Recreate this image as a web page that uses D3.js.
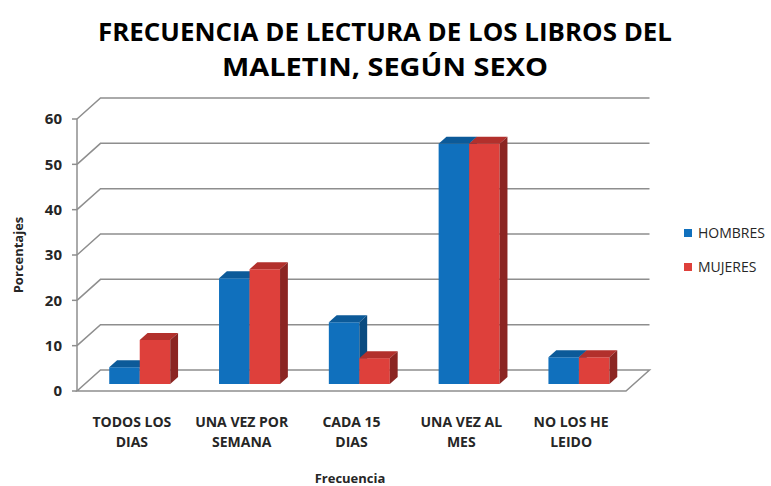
<!DOCTYPE html>
<html>
<head>
<meta charset="utf-8">
<script src="https://cdn.jsdelivr.net/npm/d3@7"></script>
<style>
  body { margin: 0; background: #fff; }
  svg { display: block; }
</style>
</head>
<body>
<svg class="chart"></svg>
<script>
// data
const categories = ["TODOS LOS DIAS", "UNA VEZ POR SEMANA", "CADA 15 DIAS", "UNA VEZ AL MES", "NO LOS HE LEIDO"]
const categoryLines = [["TODOS LOS", "DIAS"], ["UNA VEZ POR", "SEMANA"], ["CADA 15", "DIAS"], ["UNA VEZ AL", "MES"], ["NO LOS HE", "LEIDO"]]
const series = ["HOMBRES", "MUJERES"]
const hombres = [3.7, 23.3, 13.6, 53, 5.9]
const mujeres = [9.7, 25.3, 5.7, 53, 5.9]
const yTicks = [0, 10, 20, 30, 40, 50, 60]

const width = 771, height = 486
const font = "'Open Sans', 'Liberation Sans', sans-serif"

// 3d box: front floor line and depth vector
const floorY = 391
const depthX = 23.5, depthY = 21
const barZ0 = 1 / 3, barZ1 = 2 / 3

const svg = d3.select("svg.chart")
    .attr("width", width)
    .attr("height", height)

const xScale = d3.scaleBand()
    .domain(categories)
    .range([77, 626])

const xSeries = d3.scaleBand()
    .domain(series)
    .range([0, xScale.bandwidth()])
    .paddingOuter(0.8)

const yScale = d3.scaleLinear()
    .domain([0, 60])
    .range([0, 272])

const colors = {
    HOMBRES: { front: "#1070bd", top: "#0c5a99", side: "#0a4b80" },
    MUJERES: { front: "#de403b", top: "#b2302c", side: "#8b2522" }
}

// project a point (x on the front floor, z depth 0..1, h pixels high)
function proj(x, z, h) {
    return [x + z * depthX, floorY - z * depthY - h]
}
const poly = pts => "M" + pts.map(p => p.join(",")).join("L") + "Z"

// walls and grid
const grid = svg.append("g")
    .style("fill", "none")
    .style("stroke", "#8e8e8e")
    .style("stroke-width", 1.5)

const x0 = xScale.range()[0], x1 = xScale.range()[1]

grid.selectAll(".gridline")
    .data(yTicks.filter(d => d > 0))
    .enter()
    .append("path")
    .attr("d", d => {
        const a = proj(x0, 0, yScale(d)), b = proj(x0, 1, yScale(d)), c = proj(x1, 1, yScale(d))
        return "M" + a + "L" + b + "L" + c
    })

grid.append("path")
    .attr("d", poly([proj(x0, 0, 0), proj(x1, 0, 0), proj(x1, 1, 0), proj(x0, 1, 0)]))

grid.append("path")
    .attr("d", "M" + proj(x0, 0, 0) + "L" + proj(x0, 0, yScale(60)))

// y ticks and labels
const yAxis = svg.append("g")
yAxis.selectAll(".tick")
    .data(yTicks)
    .enter()
    .append("path")
    .attr("d", d => "M" + (x0 - 5) + "," + proj(x0, 0, yScale(d))[1] + "h5")
    .style("stroke", "#8e8e8e")
    .style("stroke-width", 1.5)

yAxis.selectAll(".ylabel")
    .data(yTicks)
    .enter()
    .append("text")
    .attr("x", 62)
    .attr("y", d => proj(x0, 0, yScale(d))[1])
    .attr("dy", "0.36em")
    .attr("text-anchor", "end")
    .style("font-family", font)
    .style("font-weight", "bold")
    .style("font-size", "15px")
    .style("fill", "#262626")
    .text(d => d)

// bars
const rows = categories.map((c, i) => ({ cat: c, HOMBRES: hombres[i], MUJERES: mujeres[i] }))

rows.forEach(row => {
    series.forEach(s => {
        const bx0 = xScale(row.cat) + xSeries(s)
        const bx1 = bx0 + xSeries.bandwidth()
        const h = yScale(row[s])
        const g = svg.append("g")
        g.append("path")
            .attr("d", poly([proj(bx0, barZ0, 0), proj(bx1, barZ0, 0), proj(bx1, barZ0, h), proj(bx0, barZ0, h)]))
            .style("fill", colors[s].front)
        g.append("path")
            .attr("d", poly([proj(bx0, barZ0, h), proj(bx1, barZ0, h), proj(bx1, barZ1, h), proj(bx0, barZ1, h)]))
            .style("fill", colors[s].top)
        g.append("path")
            .attr("d", poly([proj(bx1, barZ0, 0), proj(bx1, barZ1, 0), proj(bx1, barZ1, h), proj(bx1, barZ0, h)]))
            .style("fill", colors[s].side)
    })
})

// category labels
const catLabels = svg.append("g")
    .selectAll(".cat")
    .data(categories)
    .enter()
    .append("text")
    .attr("text-anchor", "middle")
    .style("font-family", font)
    .style("font-weight", "bold")
    .style("font-size", "14px")
    .style("fill", "#262626")

catLabels.selectAll("tspan")
    .data((d, i) => categoryLines[i].map(line => ({ line, cat: d })))
    .enter()
    .append("tspan")
    .attr("x", d => xScale(d.cat) + xScale.bandwidth() / 2)
    .attr("y", (d, j) => 427 + j * 20)
    .text(d => d.line)

// axis titles
svg.append("text")
    .attr("x", 350)
    .attr("y", 483)
    .attr("text-anchor", "middle")
    .style("font-family", font)
    .style("font-weight", "bold")
    .style("font-size", "13px")
    .style("fill", "#262626")
    .text("Frecuencia")

svg.append("text")
    .attr("transform", "translate(23,255)rotate(-90)")
    .attr("text-anchor", "middle")
    .style("font-family", font)
    .style("font-weight", "bold")
    .style("font-size", "13px")
    .style("fill", "#262626")
    .text("Porcentajes")

// title
const titleLines = [
    { text: "FRECUENCIA DE LECTURA DE LOS LIBROS DEL", y: 41, len: 574 },
    { text: "MALETIN, SEGÚN SEXO", y: 76, len: 326 }
]
svg.selectAll(".title")
    .data(titleLines)
    .enter()
    .append("text")
    .attr("x", 385)
    .attr("y", d => d.y)
    .attr("text-anchor", "middle")
    .attr("textLength", d => d.len)
    .attr("lengthAdjust", "spacingAndGlyphs")
    .style("font-family", font)
    .style("font-weight", "bold")
    .style("font-size", "25px")
    .style("fill", "#000")
    .text(d => d.text)

// legend
const legend = svg.append("g")
    .selectAll(".legend")
    .data(series)
    .enter()
    .append("g")
    .attr("transform", (d, i) => "translate(684," + (229 + i * 34) + ")")

legend.append("rect")
    .attr("width", 8)
    .attr("height", 8)
    .style("fill", d => colors[d].front)

legend.append("text")
    .attr("x", 14)
    .attr("y", 8.5)
    .style("font-family", font)
    .style("font-size", "14px")
    .style("fill", "#262626")
    .text(d => d)
</script>
</body>
</html>
